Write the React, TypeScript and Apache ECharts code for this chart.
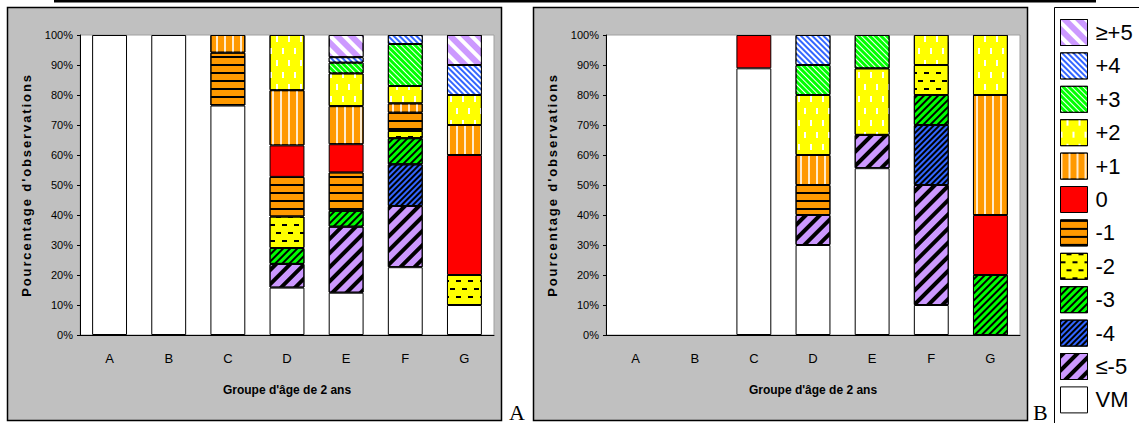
import React, { useEffect, useRef } from 'react';
import * as echarts from 'echarts';

const categories = ['A', 'B', 'C', 'D', 'E', 'F', 'G'];
const levels = ['VM', '≤-5', '-4', '-3', '-2', '-1', '0', '+1', '+2', '+3', '+4', '≥+5'];
const legendOrder = [...levels].reverse();

// Panel A (percent of observations per age group)
const aVM = [100, 100, 76.5, 15.8, 14.1, 22.6, 10];
const aLe5 = [0, 0, 0, 7.9, 22.0, 20.4, 0];
const aM4 = [0, 0, 0, 0, 0, 13.9, 0];
const aM3 = [0, 0, 0, 5.3, 5.3, 8.7, 0];
const aM2 = [0, 0, 0, 10.5, 0, 2.4, 10];
const aM1 = [0, 0, 17.6, 13.2, 12.8, 6.1, 0];
const aZero = [0, 0, 0, 10.5, 9.4, 0, 40];
const aP1 = [0, 0, 5.9, 18.4, 12.7, 3.1, 10];
const aP2 = [0, 0, 0, 18.4, 10.9, 5.8, 10];
const aP3 = [0, 0, 0, 0, 3.6, 14.0, 0];
const aP4 = [0, 0, 0, 0, 1.8, 3.0, 10];
const aGe5 = [0, 0, 0, 0, 7.4, 0, 10];

// Panel B
const bVM = [0, 0, 88.9, 30, 55.6, 10, 0];
const bLe5 = [0, 0, 0, 10, 11.1, 40, 0];
const bM4 = [0, 0, 0, 0, 0, 20, 0];
const bM3 = [0, 0, 0, 0, 0, 10, 20];
const bM2 = [0, 0, 0, 0, 0, 10, 0];
const bM1 = [0, 0, 0, 10, 0, 0, 0];
const bZero = [0, 0, 11.1, 0, 0, 0, 20];
const bP1 = [0, 0, 0, 10, 0, 0, 40];
const bP2 = [0, 0, 0, 20, 22.2, 10, 20];
const bP3 = [0, 0, 0, 10, 11.1, 0, 0];
const bP4 = [0, 0, 0, 10, 0, 0, 0];
const bGe5 = [0, 0, 0, 0, 0, 0, 0];

const panelA = [aVM, aLe5, aM4, aM3, aM2, aM1, aZero, aP1, aP2, aP3, aP4, aGe5];
const panelB = [bVM, bLe5, bM4, bM3, bM2, bM1, bZero, bP1, bP2, bP3, bP4, bGe5];

const UP = -Math.PI / 4;   // "/" stripes
const DOWN = Math.PI / 4;  // "\" stripes
const stripes = (color: string, w: number, gap: number, rot: number) => ({
  symbol: 'rect', symbolSize: 1, color, dashArrayX: [1, 0], dashArrayY: [w, gap], rotation: rot,
});
const styles: Record<string, any> = {
  'VM': { color: '#ffffff' },
  '≤-5': { color: '#cc99ff', decal: stripes('#000', 4, 6, UP) },
  '-4': { color: '#3366ff', decal: stripes('#000', 2, 2, UP) },
  '-3': { color: '#00ff00', decal: stripes('#000', 2, 3, UP) },
  '-2': { color: '#ffff00', decal: { symbol: 'rect', symbolSize: 1, color: '#000', dashArrayX: [[5, 7], [0, 6, 5, 1]], dashArrayY: [2, 6] } },
  '-1': { color: '#ff9900', decal: stripes('#000', 2, 6, 0) },
  '0': { color: '#ff0000' },
  '+1': { color: '#ff9900', decal: { symbol: 'rect', symbolSize: 1, color: 'rgba(255,255,255,0.8)', dashArrayX: [2, 6], dashArrayY: [8, 0] } },
  '+2': { color: '#ffff00', decal: { symbol: 'rect', symbolSize: 1, color: '#ffffff', dashArrayX: [[2, 10], [0, 6, 2, 4]], dashArrayY: [6, 6] } },
  '+3': { color: '#00ff00', decal: stripes('#ffffff', 1, 3, DOWN) },
  '+4': { color: '#3366ff', decal: stripes('#ffffff', 2, 2, DOWN) },
  '≥+5': { color: '#cc99ff', decal: stripes('#ffffff', 4, 6, DOWN) },
};

const SANS = "'Liberation Sans', Arial, sans-serif";
const YNAME = "Pourcentage d'observations";

function buildSeries(panel: number[][], idx: number) {
  return levels.map((name, i) => ({
    type: 'bar',
    name,
    stack: 'panel' + idx,
    xAxisIndex: idx,
    yAxisIndex: idx,
    barWidth: '59%',
    silent: true,
    data: panel[i].map((v) => (v > 0 ? v : '-')),
    itemStyle: {
      color: styles[name].color,
      decal: styles[name].decal,
      borderColor: '#000',
      borderWidth: 1,
    },
  }));
}

function xAxis(idx: number) {
  return {
    type: 'category',
    gridIndex: idx,
    data: categories,
    axisLine: { lineStyle: { color: '#000', width: 1 } },
    axisTick: { length: 5, lineStyle: { color: '#000' } },
    axisLabel: { fontFamily: SANS, fontSize: 13, color: '#000', margin: 17 },
    name: "Groupe d'âge de 2 ans",
    nameLocation: 'middle',
    nameGap: 49,
    nameTextStyle: { fontFamily: SANS, fontSize: 12, fontWeight: 'bold', color: '#000' },
  };
}

function yAxis(idx: number) {
  return {
    type: 'value',
    gridIndex: idx,
    min: 0,
    max: 100,
    interval: 10,
    axisLine: { show: true, lineStyle: { color: '#000', width: 1 } },
    axisTick: { show: true, length: 3, lineStyle: { color: '#000' } },
    splitLine: { show: false },
    axisLabel: { formatter: '{value}%', fontFamily: SANS, fontSize: 11, color: '#000', margin: 7 },
    name: YNAME,
    nameLocation: 'middle',
    nameGap: 47,
    nameTextStyle: { fontFamily: SANS, fontSize: 13, fontWeight: 'bold', color: '#000' },
  };
}

export default function App() {
  const ref = useRef<HTMLDivElement>(null);
  useEffect(() => {
    if (!ref.current) return;
    const chart = echarts.init(ref.current, null, { renderer: 'svg' });
    const option: any = {
      animation: false,
      backgroundColor: '#ffffff',
      grid: [
        { left: 80, top: 35, width: 414, height: 300, show: true, backgroundColor: '#ffffff', borderColor: '#a0a0a0', borderWidth: 1 },
        { left: 606, top: 35, width: 414, height: 300, show: true, backgroundColor: '#ffffff', borderColor: '#a0a0a0', borderWidth: 1 },
      ],
      xAxis: [xAxis(0), xAxis(1)],
      yAxis: [yAxis(0), yAxis(1)],
      legend: {
        orient: 'vertical',
        left: 1060,
        top: 19,
        width: 79,
        height: 600,
        padding: 0,
        itemWidth: 27,
        itemHeight: 26,
        itemGap: 6.4,
        icon: 'rect',
        selectedMode: false,
        data: legendOrder,
        itemStyle: { borderColor: '#000', borderWidth: 1 },
        textStyle: { fontSize: 22, lineHeight: 26, fontFamily: SANS, color: '#000', padding: [0, 0, 0, 3] },
      },
      graphic: [
        { type: 'rect', z: -10, silent: true, shape: { x: 7.5, y: 7.5, width: 494, height: 413 }, style: { fill: '#c0c0c0', stroke: '#000', lineWidth: 1.5 } },
        { type: 'rect', z: -10, silent: true, shape: { x: 533.5, y: 7.5, width: 494, height: 413 }, style: { fill: '#c0c0c0', stroke: '#000', lineWidth: 1.5 } },
        { type: 'rect', z: -10, silent: true, shape: { x: 1054.5, y: 7.5, width: 100, height: 430 }, style: { fill: '#ffffff', stroke: '#000', lineWidth: 1 } },
        { type: 'rect', z: 10, silent: true, shape: { x: 54, y: 0, width: 1042, height: 2.5 }, style: { fill: '#000' } },
        { type: 'text', z: 10, silent: true, x: 509, y: 423, style: { text: 'A', font: "22px 'Liberation Serif', serif", fill: '#000', verticalAlign: 'bottom' } },
        { type: 'text', z: 10, silent: true, x: 1033, y: 423, style: { text: 'B', font: "22px 'Liberation Serif', serif", fill: '#000', verticalAlign: 'bottom' } },
      ],
      series: [...buildSeries(panelA, 0), ...buildSeries(panelB, 1)],
    };
    chart.setOption(option);
    const spaceName = () => {
      const el = ref.current;
      if (!el) return;
      el.querySelectorAll('text').forEach((t) => {
        if (t.textContent === YNAME) t.setAttribute('letter-spacing', '1.9');
      });
    };
    chart.on('finished', spaceName);
    spaceName();
    const timer = setTimeout(spaceName, 50);
    return () => {
      clearTimeout(timer);
      chart.dispose();
    };
  }, []);
  return <div ref={ref} style={{ position: 'absolute', left: 0, top: 0, width: 1139, height: 423 }} />;
}
